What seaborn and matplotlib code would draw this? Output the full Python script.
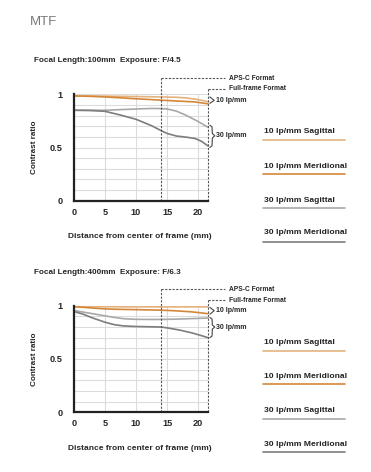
import matplotlib
matplotlib.use("Agg")
import matplotlib.pyplot as plt
from matplotlib.lines import Line2D
from matplotlib.ticker import MultipleLocator
import seaborn as sns
import pandas as pd

series = ["10 lp/mm Sagittal", "10 lp/mm Meridional", "30 lp/mm Sagittal", "30 lp/mm Meridional"]
colors = ["#e4b27f", "#d4873a", "#a8a8a8", "#7d7d7d"]

# 100mm, F/4.5
x_100 = [0, 2.5, 5, 7.5, 10, 12.5, 14, 15, 16.5, 18, 19.5, 20.5, 21.6]
s10_100 = [0.985, 0.985, 0.983, 0.981, 0.979, 0.977, 0.975, 0.974, 0.972, 0.966, 0.955, 0.944, 0.930]
m10_100 = [0.985, 0.981, 0.975, 0.967, 0.958, 0.950, 0.945, 0.942, 0.937, 0.933, 0.928, 0.920, 0.910]
s30_100 = [0.850, 0.850, 0.850, 0.856, 0.862, 0.867, 0.866, 0.862, 0.842, 0.805, 0.760, 0.728, 0.690]
m30_100 = [0.850, 0.848, 0.840, 0.805, 0.765, 0.705, 0.660, 0.632, 0.608, 0.598, 0.585, 0.560, 0.515]

# 400mm, F/6.3
x_400 = [0, 1.5, 3, 5, 6.5, 8, 10, 12.5, 14, 15, 17, 19, 20.5, 21.6]
s10_400 = [0.990, 0.990, 0.990, 0.990, 0.990, 0.989, 0.989, 0.989, 0.989, 0.989, 0.989, 0.989, 0.989, 0.989]
m10_400 = [0.990, 0.985, 0.978, 0.970, 0.967, 0.965, 0.963, 0.960, 0.958, 0.956, 0.950, 0.942, 0.933, 0.925]
s30_400 = [0.955, 0.940, 0.925, 0.905, 0.890, 0.878, 0.872, 0.871, 0.871, 0.872, 0.875, 0.879, 0.882, 0.885]
m30_400 = [0.945, 0.920, 0.885, 0.845, 0.822, 0.810, 0.805, 0.802, 0.800, 0.792, 0.772, 0.745, 0.720, 0.700]

titles = ["Focal Length:100mm  Exposure: F/4.5", "Focal Length:400mm  Exposure: F/6.3"]
aps_c = 14.0
full_frame = 21.6

sns.set_style("white")
plt.rcParams["font.family"] = ["Liberation Sans", "DejaVu Sans"]

W, H = 371, 472
fig = plt.figure(figsize=(3.71, 4.72), dpi=100)


def fx(px):
    return px / W


def fy(py):
    return 1 - py / H


def draw_panel(ax, x, curves, bracket10, bracket30):
    rows = []
    for name, vals in zip(series, curves):
        for xi, yi in zip(x, vals):
            rows.append({"distance": xi, "contrast": yi, "series": name})
    df = pd.DataFrame(rows)

    ax.set_xlim(0, 21.6)
    ax.set_ylim(0, 1)
    ax.set_xticks([0, 5, 10, 15, 20])
    ax.set_yticks([0, 0.5, 1])
    ax.set_yticklabels(["0", "0.5", "1"])
    ax.yaxis.set_minor_locator(MultipleLocator(0.1))
    ax.grid(axis="y", which="both", color="#dcdcdc", lw=0.8)
    ax.grid(axis="x", which="major", color="#dcdcdc", lw=0.8)
    ax.set_axisbelow(True)

    sns.lineplot(data=df, x="distance", y="contrast", hue="series", hue_order=series,
                 palette=dict(zip(series, colors)), lw=1.2, legend=False, ax=ax)
    for ln in ax.get_lines():
        ln.set_clip_on(False)

    for s in ["top", "right"]:
        ax.spines[s].set_visible(False)
    for s in ["left", "bottom"]:
        ax.spines[s].set_linewidth(1.6)
        ax.spines[s].set_color("#222222")
    ax.tick_params(axis="y", which="major", direction="in", length=6, width=1.6,
                   labelsize=6.6, pad=8)
    ax.tick_params(axis="y", which="minor", direction="in", length=3, width=1.4)
    ax.tick_params(axis="x", which="major", direction="in", length=3, width=1.1,
                   labelsize=6.6, pad=5)
    for lab in ax.get_xticklabels() + ax.get_yticklabels():
        lab.set_fontweight("bold")

    ax.set_xlabel("Distance from center of frame (mm)", fontsize=6.0, fontweight="bold")
    ax.set_ylabel("Contrast ratio", fontsize=5.9, fontweight="bold")
    ax.xaxis.set_label_coords(0.49, -0.305)
    ax.yaxis.set_label_coords(-0.269, 0.5)

    # format boundaries
    dash = dict(color="#555555", lw=0.8, ls=(0, (2, 1.3)), clip_on=False)
    ax.plot([aps_c, aps_c], [0, 1.153], **dash)
    ax.plot([aps_c, 24.4], [1.153, 1.153], **dash)
    ax.plot([full_frame, full_frame], [0, 1.05], **dash)
    ax.plot([full_frame, 24.4], [1.05, 1.05], **dash)
    ax.text(25.0, 1.153, "APS-C Format", fontsize=4.8, fontweight="bold", va="center")
    ax.text(25.0, 1.05, "Full-frame Format", fontsize=4.8, fontweight="bold", va="center")

    # brackets
    b = dict(color="#444444", lw=0.8, clip_on=False)
    t, m, lo = bracket10
    ax.plot([21.9, 22.6, 21.9], [t, m, lo], **b)
    ax.text(22.9, m, "10 lp/mm", fontsize=5.0, fontweight="bold", va="center")
    t, m, lo = bracket30
    h = t - lo
    ax.plot([21.9, 22.25, 22.3, 22.7, 22.3, 22.25, 21.9],
            [t, t - 0.08 * h, m + 0.1 * h, m, m - 0.1 * h, lo + 0.08 * h, lo], **b)
    ax.text(22.9, m, "30 lp/mm", fontsize=5.0, fontweight="bold", va="center")


def draw_legend(text_y, line_y):
    for name, c, ty, ly in zip(series, colors, text_y, line_y):
        fig.text(fx(264), fy(ty), name, fontsize=6.1, fontweight="bold", va="center",
                 color="#222222")
        fig.add_artist(Line2D([fx(263), fx(345)], [fy(ly), fy(ly)], color=c, lw=1.2))


fig.text(fx(30), fy(22), "MTF", fontsize=9.5, color="#7a7a7a", va="center")

ax1 = fig.add_axes([fx(74), fy(200.7), fx(134), 106.4 / H])
draw_panel(ax1, x_100, [s10_100, m10_100, s30_100, m30_100],
           (0.975, 0.943, 0.915), (0.71, 0.61, 0.50))
fig.text(fx(34), fy(61), titles[0], fontsize=5.9, fontweight="bold", va="center")
draw_legend([132, 166, 200, 233], [140, 174, 208, 242])

ax2 = fig.add_axes([fx(74), fy(412.3), fx(134), 106.6 / H])
draw_panel(ax2, x_400, [s10_400, m10_400, s30_400, m30_400],
           (0.985, 0.953, 0.92), (0.89, 0.80, 0.70))
fig.text(fx(34), fy(272.7), titles[1], fontsize=5.9, fontweight="bold", va="center")
draw_legend([342.3, 376.7, 410.7, 444.3], [350.7, 384, 418.7, 452])

fig.savefig("out.png", dpi=100, facecolor="white")
